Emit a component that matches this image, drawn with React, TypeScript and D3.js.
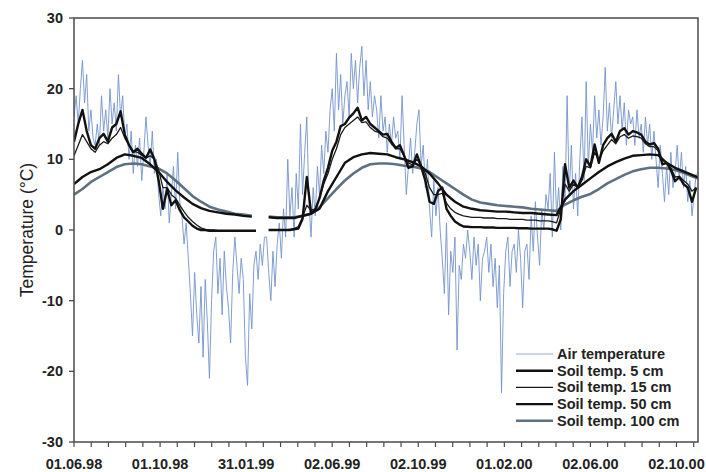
import React from "react";
import * as d3 from "d3";

// ---- data (days since 01.06.1998) ----
const AIR_STEP = 3;
const SOIL_FINE_STEP = 6;
const SOIL_DEEP_STEP = 12;
const DOMAIN_DAYS = 884.5;
const MAJOR_DAYS = 122;
const MINOR_PER_MAJOR = 5;

const xTickLabels = ["01.06.98", "01.10.98", "31.01.99", "02.06.99", "02.10.99", "01.02.00", "02.06.00", "02.10.00"];
const yTicks = [30, 20, 10, 0, -10, -20, -30];

const airTemp: number[] = [
  16, 19, 15, 20, 24, 18, 22, 14, 17, 13,
  12, 15, 12, 19, 14, 17, 13, 20, 15, 18, 14,
  22, 16, 19, 13, 15, 10, 14, 8, 12, 9,
  13, 7, 11, 16, 12, 9, 14, 8, 10, 5,
  2, 6, 3, 8, 1, 5, 9, 3, 11, 4,
  2, -2, 1, -4, -9, -15, -6, -12, -16, -8,
  -18, -7, -13, -21, -10, -3, -1, -9, -4, -12,
  -3, -8, -11, -16, -6, -1, -5, -9, -4, -7,
  -18, -22, -9, -14, -5, -3, -7, -2, -5, -1,
  -1, -6, -10, -3, -8, -2, 1, -4, 3, -1,
  10, 2, 6, -1, 8, 3, 15, 5, 11, 16,
  4, -1, 6, 2, 9, 5, 12, 8, 14, 11, 17,
  20, 14, 25, 17, 22, 15, 19, 21, 16, 25,
  20, 24, 18, 23, 26, 19, 24, 17, 21, 16, 19,
  17, 13, 19, 14, 16, 11, 15, 12, 16, 13,
  14, 10, 19, 12, 5, 9, 13, 8, 11, 15,
  17, 9, 12, 6, 10, 3, -1, 7, 2, 6,
  0, -4, -9, 1, -12, -3, -6, -1, -17, -5,
  -7, -2, -4, 0, -3, -7, -1, -5, -2, -10, -4,
  -3, -1, -6, -2, -8, -4, -11, -5, -23, -9,
  -3, -1, -8, -3, -2, -6, 0, -4, -11, -3,
  -2, -7, 2, -3, 4, -1, -5, 3, 0, 5,
  3, 8, -1, 11, 2, 6, 0, 9, 4, 19,
  5, 12, 3, 8, 2, 10, 16, 7, 21, 9,
  15, 11, 19, 13, 17, 12, 16, 23, 14, 18,
  13, 17, 21, 15, 19, 14, 18, 12, 17, 15,
  16, 12, 17, 13, 15, 11, 16, 12, 15, 10, 14,
  10, 6, 12, 8, 4, 9, 5, 11, 6, 8,
  12, 7, 11, 6, 9, 4, 7, 2, 5, 8,
];

const soil5: (number | null)[] = [
  12.5, 15, 17, 14, 12,
  11.5, 13, 13.6, 12.5, 14.5,
  15, 16.8, 13.5, 12, 11,
  11.5, 10.8, 10.2, 11.4, 10,
  7, 3, 5.8, 3.5, 4.2,
  2.8, 1.8, 1.2, 0.6, 0.2,
  0, 0, -0.1, -0.1, -0.1,
  -0.1, -0.1, -0.1, -0.1, -0.1,
  -0.1, -0.1, -0.1, -0.1, null,
  null, 0, 0, 0, 0,
  0, 0, 0.1, 0.2, 1.6,
  7.5, 2.5, 2.8, 4.5, 7,
  8.8, 11.2, 12.5, 14.7, 15,
  15.9, 16.5, 17.3, 15.5, 16,
  15, 14.5, 14, 13.5, 13.6,
  12.5, 11.6, 12, 10.5, 8.8,
  9, 10.7, 9, 7, 4,
  3.7, 5.5, 6, 3, 2,
  1.2, 0.8, 0.5, 0.45, 0.4,
  0.4, 0.4, 0.35, 0.35, 0.35,
  0.3, 0.3, 0.3, 0.3, 0.3,
  0.25, 0.25, 0.25, 0.2, 0.2,
  0.2, 0.2, 0.2, 0.1, -0.1,
  1.5, 9.3, 6, 7, 6,
  7.5, 10, 9, 12.1, 9.5,
  12, 13, 13.6, 12.5, 14,
  14.4, 13.5, 14, 13.8, 13.5,
  12.5, 12.1, 12.3, 11.5, 9.3,
  9.5, 8.5, 6.9, 7.5, 6.5,
  6, 4, 6,
];

const soil15: (number | null)[] = [
  10.5, 12, 13.5, 12.5, 11.5,
  11, 12, 12.5, 12.2, 13,
  13.5, 14.5, 13, 12, 11.2,
  11, 10.6, 10.2, 10.5, 10,
  8.5, 6, 6, 5, 4.5,
  3.5, 2.6, 1.8, 1.2, 0.7,
  0.3, 0.1, 0, 0, -0.1,
  -0.1, -0.1, -0.1, -0.1, -0.1,
  -0.1, -0.1, -0.1, -0.1, null,
  null, 0, 0, 0, 0,
  0, 0.1, 0.2, 0.5, 1.8,
  3.5, 2.8, 3, 4.5, 6.5,
  8, 10, 11.5, 13.5, 14.5,
  15, 15.5, 16, 15.2, 15.3,
  14.5, 14, 13.8, 13.2, 13,
  12.2, 11.5, 11.5, 10.5, 9.5,
  9.2, 10, 9.2, 8, 6,
  5, 5, 5.2, 3.8, 3,
  2.5, 2.2, 2, 1.9, 1.8,
  1.8, 1.8, 1.7, 1.7, 1.7,
  1.6, 1.6, 1.6, 1.5, 1.5,
  1.5, 1.5, 1.4, 1.4, 1.4,
  1.3, 1.3, 1.3, 1.2, 1.0,
  3, 6.5, 5.5, 6.5, 6,
  7, 9, 8.8, 11, 9.8,
  11.2, 12, 12.8, 12.2, 13.2,
  13.5, 13, 13.3, 13.2, 13,
  12.2, 11.8, 11.8, 11.2, 9.8,
  9.6, 8.8, 7.5, 7.6, 7,
  6.5, 5.5, 6,
];

const soil50: (number | null)[] = [
  6.5, 7.5, 8.2, 8.6, 9.3, 10.2, 10.7, 10.5, 10.2, 9.3,
  8.2, 6.8, 5.6, 4.6, 3.7, 3.1, 2.7, 2.5, 2.3, 2.2,
  2.0, 1.9, null, 1.8, 1.7, 1.7, 1.7, 2.0, 2.3, 3.0,
  5.5, 7.5, 9.5, 10.3, 10.7, 10.9, 10.8, 10.7, 10.3, 10,
  9.6, 9.0, 8.0, 6.6, 5.0, 4.0, 3.3, 3.0, 2.8, 2.7,
  2.6, 2.6, 2.5, 2.4, 2.4, 2.3, 2.2, 2.1, 4.3, 5.5,
  6.4, 7.3, 8.2, 9.0, 9.6, 10.1, 10.5, 10.6, 10.7, 10.6,
  9.5, 8.8, 8.3, 7.8, 7.3,
];

const soil100: (number | null)[] = [
  5.0, 5.8, 6.8, 7.5, 8.2, 8.9, 9.3, 9.4, 9.3, 9.0,
  8.7, 8.0, 7.0, 5.9, 4.8, 4.0, 3.3, 2.9, 2.6, 2.3,
  2.2, 2.0, null, 1.9, 1.8, 1.8, 1.8, 2.0, 2.3, 3.2,
  4.5, 5.8, 7.0, 8.0, 8.8, 9.3, 9.4, 9.4, 9.3, 9.1,
  9.0, 8.7, 8.2, 7.4, 6.6, 5.8, 5.0, 4.3, 3.9, 3.7,
  3.5, 3.4, 3.3, 3.2, 3.0, 2.9, 2.8, 2.7, 3.6, 4.2,
  4.7, 5.1, 5.8, 6.6, 7.2, 7.8, 8.3, 8.6, 8.8, 8.8,
  8.7, 8.5, 8.1, 7.6, 7.2,
];

const legendLabels = ["Air temperature", "Soil temp. 5 cm", "Soil temp. 15 cm", "Soil temp. 50 cm", "Soil temp. 100 cm"];

// ---- layout / styles ----
const W = 706, H = 472;
const M = { left: 74, right: 698, top: 18, bottom: 442 };
const FONT = "'Liberation Sans', Arial, sans-serif";
const AXIS_COLOR = "#4a4a4a";

const styles = [
  { color: "#7393cc", width: 1, opacity: 0.9 },
  { color: "#111111", width: 2.4, opacity: 1 },
  { color: "#1a1a1a", width: 1.3, opacity: 1 },
  { color: "#111111", width: 2.4, opacity: 1 },
  { color: "#5d7180", width: 2.6, opacity: 1 },
];

export default function App() {
  const x = d3.scaleLinear().domain([0, DOMAIN_DAYS]).range([M.left, M.right]);
  const y = d3.scaleLinear().domain([-30, 30]).range([M.bottom, M.top]);

  const mk = (vals: (number | null)[], step: number) => {
    const pts = vals.map((v, i) => ({ d: i * step, v }));
    return d3
      .line<{ d: number; v: number | null }>()
      .defined((p) => p.v !== null)
      .x((p) => x(p.d))
      .y((p) => y(p.v as number))(pts) as string;
  };

  const series = [
    mk(airTemp, AIR_STEP),
    mk(soil5, SOIL_FINE_STEP),
    mk(soil15, SOIL_FINE_STEP),
    mk(soil50, SOIL_DEEP_STEP),
    mk(soil100, SOIL_DEEP_STEP),
  ];
  const drawOrder = [0, 4, 3, 2, 1];

  const minorStep = MAJOR_DAYS / MINOR_PER_MAJOR;
  const minorTicks = d3.range(0, DOMAIN_DAYS + 0.01, minorStep);

  const legendX0 = 516, legendX1 = 553, legendTextX = 557;
  const legendY0 = 354, legendDy = 16.7;

  return (
    <svg width={W} height={H} style={{ position: "absolute", left: 0, top: 0, background: "#fff" }} fontFamily={FONT}>
      <defs>
        <clipPath id="plot">
          <rect x={M.left} y={M.top} width={M.right - M.left} height={M.bottom - M.top} />
        </clipPath>
      </defs>
      <rect x={0} y={0} width={W} height={H} fill="#fff" />

      <g clipPath="url(#plot)">
        {drawOrder.map((k) => (
          <path
            key={k}
            d={series[k]}
            fill="none"
            stroke={styles[k].color}
            strokeWidth={styles[k].width}
            strokeOpacity={styles[k].opacity}
            strokeLinejoin="round"
          />
        ))}
      </g>

      {/* frame */}
      <rect x={M.left} y={M.top} width={M.right - M.left} height={M.bottom - M.top} fill="none" stroke={AXIS_COLOR} strokeWidth={1.5} />

      {/* y axis */}
      {yTicks.map((t) => (
        <g key={t}>
          <line x1={M.left - 5} x2={M.left} y1={y(t)} y2={y(t)} stroke={AXIS_COLOR} strokeWidth={1.3} />
          <text x={M.left - 11} y={y(t) + 5} textAnchor="end" fontSize={14.5} fontWeight="bold" fill="#222">
            {t}
          </text>
        </g>
      ))}
      <text
        transform={`translate(33, ${(M.top + M.bottom) / 2}) rotate(-90)`}
        textAnchor="middle"
        fontSize={17.5}
        fill="#222"
      >
        Temperature (°C)
      </text>

      {/* x axis */}
      {minorTicks.map((d, i) => (
        <line key={i} x1={x(d)} x2={x(d)} y1={M.bottom} y2={M.bottom + 5} stroke={AXIS_COLOR} strokeWidth={1.2} />
      ))}
      {xTickLabels.map((lab, i) => (
        <text key={lab} x={x(i * MAJOR_DAYS)} y={469} textAnchor="middle" fontSize={14.5} fontWeight="bold" fill="#222">
          {lab}
        </text>
      ))}

      {/* legend */}
      {legendLabels.map((lab, i) => (
        <g key={lab}>
          <line
            x1={legendX0}
            x2={legendX1}
            y1={legendY0 + i * legendDy}
            y2={legendY0 + i * legendDy}
            stroke={i === 0 ? "#9aaacb" : styles[i].color}
            strokeWidth={styles[i].width}
          />
          <text x={legendTextX} y={legendY0 + i * legendDy + 5} fontSize={14.5} fontWeight="bold" fill="#222">
            {lab}
          </text>
        </g>
      ))}
    </svg>
  );
}
